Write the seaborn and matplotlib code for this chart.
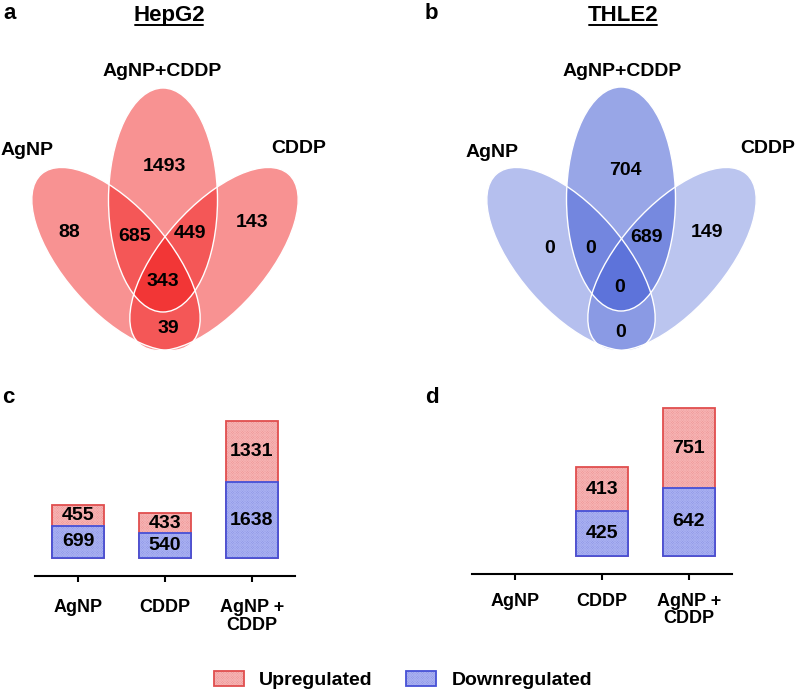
import matplotlib.pyplot as plt
import pandas as pd
import seaborn as sns
from matplotlib.colors import to_rgba
from matplotlib.patches import Ellipse, Patch

# Venn counts: only-mid, only-AgNP, AgNP&mid, mid&CDDP, only-CDDP, all three, AgNP&CDDP
hep_counts = [1493, 88, 685, 449, 143, 343, 39]
thle_counts = [704, 0, 0, 689, 149, 0, 0]
set_names = ["AgNP", "AgNP+CDDP", "CDDP"]

# stacked bars
groups = ["AgNP", "CDDP", "AgNP +\nCDDP"]
hep_up = [455, 433, 1331]
hep_down = [699, 540, 1638]
thle_up = [0, 413, 751]
thle_down = [0, 425, 642]

UP_FACE, UP_EDGE, UP_HATCH = "#e86e6e", "#e04e4e", "#f5b2b2"
DOWN_FACE, DOWN_EDGE, DOWN_HATCH = "#6a75dc", "#4650d6", "#a8aff0"
HATCH = "x" * 20

sns.set_theme(style="white")
plt.rcParams["font.family"] = ["Liberation Sans", "DejaVu Sans"]
plt.rcParams["font.weight"] = "bold"
plt.rcParams["text.color"] = "black"
plt.rcParams["xtick.color"] = "black"
plt.rcParams["xtick.labelcolor"] = "black"
plt.rcParams["hatch.linewidth"] = 0.4

fig = plt.figure(figsize=(7.97, 6.91), dpi=100)

# overlay axes in pixel coordinates for the venn diagrams and free text
ov = fig.add_axes([0, 0, 1, 1])
ov.set_xlim(0, 797)
ov.set_ylim(691, 0)
ov.axis("off")


def draw_venn(ax, centers, color, alphas, counts, count_pos, label_pos, title, title_x):
    shapes = [(226, 104, 48.7), (109, 224, 0), (226, 104, -48.7)]
    for k in [1, 0, 2]:
        w, h, ang = shapes[k]
        ax.add_patch(Ellipse(centers[k], w, h, angle=ang, facecolor=color,
                             alpha=alphas[k], edgecolor="none"))
    for k in [1, 0, 2]:
        w, h, ang = shapes[k]
        ax.add_patch(Ellipse(centers[k], w, h, angle=ang, facecolor="none",
                             edgecolor="white", lw=1.0))
    for val, (x, y) in zip(counts, count_pos):
        ax.text(x, y, str(val), ha="center", va="center", fontsize=14, fontweight="bold")
    for name, (x, y) in zip(set_names, label_pos):
        ax.text(x, y, name, ha="center", va="center", fontsize=14, fontweight="bold")
    ax.text(title_x, 15, title, ha="center", va="center", fontsize=16, fontweight="bold")
    half = len(title) * 7.0
    ax.plot([title_x - half + 1, title_x + half - 1], [25, 25], color="black", lw=1.4)


draw_venn(ov, [(116, 259), (163, 200), (214, 259)], (0.94, 0.06, 0.06), [0.45, 0.45, 0.45],
          hep_counts,
          [(164, 166), (69, 232), (135, 236), (190, 233), (252, 222), (163, 281), (168, 328)],
          [(27, 150), (162, 71), (299, 148)], "HepG2", 169)
draw_venn(ov, [(571, 259), (621, 199), (672, 259)], (0.2, 0.31, 0.82), [0.36, 0.5, 0.33],
          thle_counts,
          [(625, 170), (550, 248), (591, 248), (647, 237), (707, 232), (620, 287), (621, 332)],
          [(492, 152), (622, 71), (768, 148)], "THLE2", 623)

for letter, x, y in [("a", 3, 13), ("b", 425, 13), ("c", 2, 397), ("d", 425, 397)]:
    ov.text(x, y, letter, ha="left", va="center", fontsize=16, fontweight="bold")


def draw_bars(ax, up, down, ylim, pad):
    df = pd.DataFrame({"group": groups, "up": up, "down": down})
    df["total"] = df["up"] + df["down"]
    bar_kws = dict(data=df, x="group", order=groups, width=0.6, saturation=1,
                   errorbar=None, hatch=HATCH, linewidth=1.3, ax=ax)
    sns.barplot(y="total", color=UP_FACE, edgecolor=UP_EDGE, **bar_kws)
    n_up = len(ax.patches)
    sns.barplot(y="down", color=DOWN_FACE, edgecolor=DOWN_EDGE, **bar_kws)
    for j, p in enumerate(ax.patches):
        p._hatch_color = to_rgba(UP_HATCH if j < n_up else DOWN_HATCH)
        if p.get_height() == 0:
            p.set_visible(False)
    for i, (u, d) in enumerate(zip(up, down)):
        if u:
            ax.text(i, d + u / 2, str(u), ha="center", va="center", fontsize=14, fontweight="bold")
        if d:
            ax.text(i, d / 2, str(d), ha="center", va="center", fontsize=14, fontweight="bold")
    ax.set_xlim(-0.5, 2.5)
    ax.set_ylim(*ylim)
    ax.set_yticks([])
    ax.set_xlabel("")
    ax.set_ylabel("")
    sns.despine(ax=ax, left=True)
    ax.spines["bottom"].set_linewidth(1.5)
    ax.spines["bottom"].set_color("black")
    ax.tick_params(axis="x", bottom=True, length=4.5, width=1.5, color="black",
                   pad=pad, labelsize=13, labelcolor="black")
    for t in ax.get_xticklabels():
        t.set_fontweight("bold")
        t.set_linespacing(1.05)
    ax.patch.set_alpha(0)


ax_c = fig.add_axes([35 / 797, 1 - 576 / 691, 260 / 797, 176 / 691])
draw_bars(ax_c, hep_up, hep_down, (-390, 3427), 12)
ax_d = fig.add_axes([472 / 797, 1 - 574 / 691, 260 / 797, 174 / 691])
draw_bars(ax_d, thle_up, thle_down, (-170, 1472), 9)

handles = [Patch(facecolor=UP_FACE, edgecolor=UP_EDGE, hatch=HATCH, lw=1.3),
           Patch(facecolor=DOWN_FACE, edgecolor=DOWN_EDGE, hatch=HATCH, lw=1.3)]
handles[0]._hatch_color = to_rgba(UP_HATCH)
handles[1]._hatch_color = to_rgba(DOWN_HATCH)
fig.legend(handles, ["Upregulated", "Downregulated"], loc="center",
           bbox_to_anchor=(403 / 797, 1 - 680 / 691), ncol=2, frameon=False,
           prop={"size": 14, "weight": "bold"}, handlelength=1.55, handleheight=0.8,
           handletextpad=0.8, columnspacing=1.7)

fig.savefig("out.png", dpi=100)
